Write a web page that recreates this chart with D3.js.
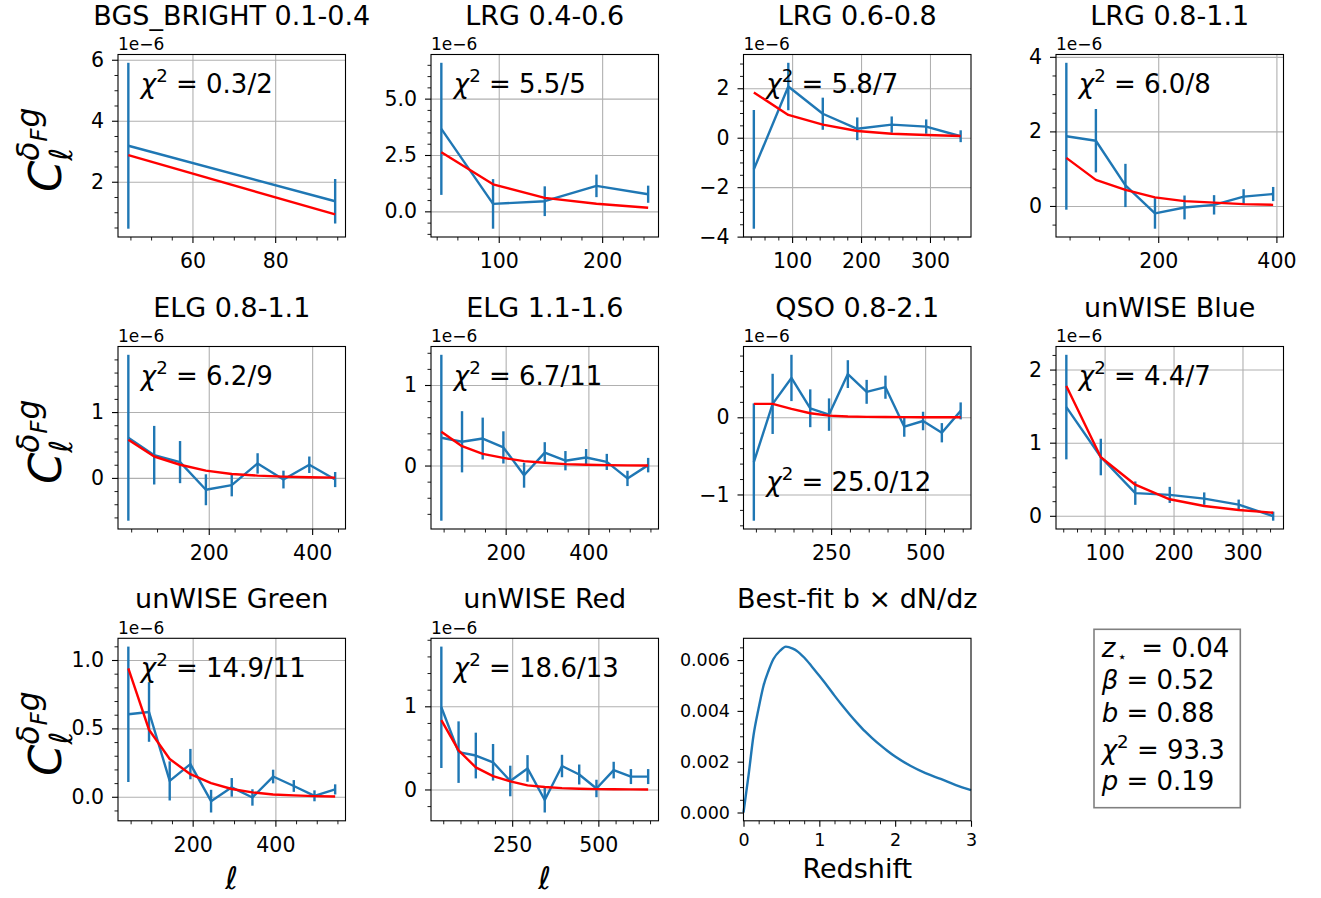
<!DOCTYPE html>
<html><head><meta charset="utf-8">
<script src="https://cdn.jsdelivr.net/npm/d3@7"></script>
<style>body{margin:0;background:#fff}svg text{font-family:"DejaVu Sans",sans-serif;white-space:pre}</style>
</head><body><svg id="c" width="1321" height="898"></svg>
<script>
// ---------------- data (C_ell values in units of 1e-6) ----------------
const panelTitles = ["BGS_BRIGHT 0.1-0.4","LRG 0.4-0.6","LRG 0.6-0.8","LRG 0.8-1.1","ELG 0.8-1.1","ELG 1.1-1.6","QSO 0.8-2.1","unWISE Blue","unWISE Green","unWISE Red"];
const ellCenters = [44.5,94.5,144.5,194.5,244.5,294.5,344.5,394.5,444.5,494.5,544.5,594.5,644.5];

const clBGS = [3.18,1.36];
const errBGS = [2.72,0.73];
const modBGS = [2.87,0.93];

const clLRG1 = [3.66,0.33,0.45,1.13,0.76];
const errLRG1 = [2.93,1.1,0.66,0.5,0.38];
const modLRG1 = [2.62,1.2,0.6,0.34,0.16];

const clLRG2 = [-1.28,2.07,0.97,0.36,0.53,0.45,0.06];
const errLRG2 = [2.4,0.96,0.65,0.46,0.33,0.29,0.24];
const modLRG2 = [1.83,0.92,0.53,0.27,0.16,0.11,0.07];

const clLRG3 = [1.87,1.75,0.55,-0.2,-0.04,0.03,0.25,0.32];
const errLRG3 = [1.97,0.85,0.58,0.41,0.32,0.26,0.2,0.19];
const modLRG3 = [1.29,0.70,0.43,0.23,0.13,0.09,0.05,0.03];

const clELG1 = [0.61,0.345,0.24,-0.18,-0.11,0.22,-0.025,0.2,-0.025];
const errELG1 = [1.26,0.445,0.32,0.235,0.17,0.155,0.135,0.125,0.115];
const modELG1 = [0.58,0.325,0.2,0.11,0.06,0.035,0.02,0.01,0.005];

const clELG2 = [0.345,0.295,0.335,0.225,-0.12,0.16,0.06,0.1,0.045,-0.16,0.005];
const errELG2 = [1.03,0.38,0.26,0.2,0.155,0.13,0.12,0.105,0.1,0.095,0.09];
const modELG2 = [0.42,0.24,0.145,0.095,0.055,0.035,0.017,0.01,0.005,0.002,0.0];

const clQSO = [-0.58,0.174,0.51,0.117,0.035,0.56,0.33,0.39,-0.122,-0.048,-0.2,0.083];
const errQSO = [0.76,0.39,0.3,0.245,0.21,0.18,0.155,0.15,0.13,0.12,0.125,0.11];
const modQSO = [0.174,0.174,0.109,0.052,0.022,0.01,0.005,0.003,0.002,0.001,0.001,0.0];

const clBlue = [1.487,0.804,0.31,0.286,0.235,0.152,-0.005];
const errBlue = [0.715,0.25,0.16,0.11,0.085,0.07,0.062];
const modBlue = [1.774,0.8,0.425,0.226,0.134,0.08,0.042];

const clGreen = [0.603,0.62,0.116,0.239,-0.032,0.069,-0.005,0.148,0.079,0.007,0.054];
const errGreen = [0.495,0.218,0.143,0.111,0.083,0.068,0.06,0.05,0.043,0.04,0.037];
const modGreen = [0.938,0.49,0.276,0.165,0.1,0.057,0.032,0.017,0.01,0.005,0.002];

const clRed = [0.988,0.449,0.408,0.327,0.102,0.253,-0.127,0.282,0.18,0.012,0.233,0.155,0.155];
const errRed = [0.73,0.37,0.275,0.22,0.184,0.16,0.15,0.135,0.12,0.105,0.1,0.09,0.09];
const modRed = [0.833,0.47,0.265,0.16,0.098,0.049,0.029,0.016,0.008,0.004,0.002,0.001,0.0];

const chi2Labels = ["0.3/2","5.5/5","5.8/7","6.0/8","6.2/9","6.7/11","25.0/12","4.4/7","14.9/11","18.6/13"];
const chi2Place = ["top","top","top","top","top","top","bottom","top","top","top"];

const xTickVals = [[60,80],[100,200],[100,200,300],[200,400],[200,400],[200,400],[250,500],[100,200,300],[200,400],[250,500]];
const xTickLabels = [["60","80"],["100","200"],["100","200","300"],["200","400"],["200","400"],["200","400"],["250","500"],["100","200","300"],["200","400"],["250","500"]];
const yTickVals = [[2,4,6],[0,2.5,5],[-4,-2,0,2],[0,2,4],[0,1],[0,1],[-1,0],[0,1,2],[0,0.5,1],[0,1]];
const yTickLabels = [["2","4","6"],["0.0","2.5","5.0"],["\u22124","\u22122","0","2"],["0","2","4"],["0","1"],["0","1"],["\u22121","0"],["0","1","2"],["0.0","0.5","1.0"],["0","1"]];
const xMinorDiv = [4,5,5,4,4,4,5,5,4,5];
const yMinorDiv = [4,5,4,4,5,5,5,5,5,5];

// best-fit b x dN/dz (values in units of 1e-3)
const zGrid = [0,0.066,0.132,0.198,0.264,0.33,0.395,0.483,0.558,0.65,0.7,0.8,0.9,1.0,1.1,1.2,1.3,1.4,1.5,1.6,1.7,1.8,1.9,2.0,2.2,2.4,2.6,2.8,3.0];
const bdndz = [0,1.45,3.03,4.08,4.99,5.58,6.04,6.37,6.53,6.45,6.37,6.1,5.75,5.38,5.0,4.6,4.22,3.86,3.52,3.2,2.92,2.66,2.42,2.2,1.84,1.55,1.32,1.08,0.88];
const zTicks = [0,1,2,3];
const zTickLabels = ["0","1","2","3"];
const bTicks = [0,2,4,6];
const bTickLabels = ["0.000","0.002","0.004","0.006"];

const fitParams = [["z","\u22c6","0.04"],["\u03b2","","0.52"],["b","","0.88"],["\u03c7","2","93.3"],["p","","0.19"]];

// ---------------- layout ----------------
const clAll = [clBGS,clLRG1,clLRG2,clLRG3,clELG1,clELG2,clQSO,clBlue,clGreen,clRed];
const errAll = [errBGS,errLRG1,errLRG2,errLRG3,errELG1,errELG2,errQSO,errBlue,errGreen,errRed];
const modAll = [modBGS,modLRG1,modLRG2,modLRG3,modELG1,modELG2,modQSO,modBlue,modGreen,modRed];

const colLeft = [118,431,743.5,1056], rowTop = [54.5,346.5,638.3];
const PW = 227.5, PH = 182.5;
const BLUE = "#1f77b4", RED = "#ff0000", GRID = "#b0b0b0";
const TICK = 20.5, TITLE = 27, CHI = 26, LW = 2.4;
const svg = d3.select("#c");

function minorTicks(domain, majors, ndiv){
  const step = (majors[1]-majors[0])/ndiv, out=[];
  const start = Math.ceil((domain[0]-majors[0])/step - 1e-9);
  for(let k=start; majors[0]+k*step <= domain[1]+1e-9; k++){
    if(((k%ndiv)+ndiv)%ndiv !== 0) out.push(majors[0]+k*step);
  }
  return out;
}

function axes(g, xs, ys, xt, xl, xdiv, yt, yl, ydiv, opts){
  const fs = opts.fs || TICK;
  if(opts.grid){
    g.append("g").call(d3.axisBottom(xs).tickValues(xt).tickSize(PH).tickFormat(""))
      .call(a=>{a.select(".domain").remove();a.selectAll("line").attr("stroke",GRID).attr("stroke-width",1.1);});
    g.append("g").call(d3.axisLeft(ys).tickValues(yt).tickSize(-PW).tickFormat(""))
      .call(a=>{a.select(".domain").remove();a.selectAll("line").attr("stroke",GRID).attr("stroke-width",1.1);});
  }
  return function finish(){
    g.append("rect").attr("width",PW).attr("height",PH).attr("fill","none").attr("stroke","#000").attr("stroke-width",1.1);
    const xm = new Map(xt.map((v,i)=>[v,xl[i]])), ym = new Map(yt.map((v,i)=>[v,yl[i]]));
    g.append("g").attr("transform",`translate(0,${PH})`)
      .call(d3.axisBottom(xs).tickValues(xt).tickSize(6).tickPadding(opts.xpad||10.5).tickFormat(d=>xm.get(d)))
      .call(a=>{a.select(".domain").remove();a.attr("font-size",fs).attr("font-family",null);a.selectAll("line").attr("stroke-width",1.1);});
    g.append("g").attr("transform",`translate(0,${PH})`)
      .call(d3.axisBottom(xs).tickValues(minorTicks(xs.domain(),xt,xdiv)).tickSize(3.5).tickFormat(""))
      .call(a=>{a.select(".domain").remove();a.selectAll("line").attr("stroke-width",0.9);});
    g.append("g")
      .call(d3.axisLeft(ys).tickValues(yt).tickSize(6).tickPadding(opts.ypad||8).tickFormat(d=>ym.get(d)))
      .call(a=>{a.select(".domain").remove();a.attr("font-size",fs).attr("font-family",null);a.selectAll("line").attr("stroke-width",1.1);});
    g.append("g")
      .call(d3.axisLeft(ys).tickValues(minorTicks(ys.domain(),yt,ydiv)).tickSize(3.5).tickFormat(""))
      .call(a=>{a.select(".domain").remove();a.selectAll("line").attr("stroke-width",0.9);});
  };
}

function chiText(g, x, y, sym, sup, rest, size){
  const t = g.append("text").attr("x",x).attr("y",y).attr("font-size",size);
  t.append("tspan").attr("font-style","italic").text(sym);
  if(sup){
    t.append("tspan").attr("font-size",size*0.7).attr("dy",-size*0.42).text(sup);
    t.append("tspan").attr("dy",size*0.42).text(" = "+rest);
  } else t.append("tspan").text(" = "+rest);
  return t;
}

// ---------------- C_ell panels ----------------
panelTitles.forEach((title,i)=>{
  const r = Math.floor(i/4), c = i%4;
  const g = svg.append("g").attr("transform",`translate(${colLeft[c]},${rowTop[r]})`);
  const cl = clAll[i], er = errAll[i], md = modAll[i];
  const ell = ellCenters.slice(0, cl.length);
  const xs0 = ell[0], xs1 = ell[ell.length-1], xpad = 0.05*(xs1-xs0);
  const lo = Math.min(d3.min(cl,(d,j)=>d-er[j]), d3.min(md));
  const hi = Math.max(d3.max(cl,(d,j)=>d+er[j]), d3.max(md));
  const ypad = 0.05*(hi-lo);
  const xs = d3.scaleLinear().domain([xs0-xpad, xs1+xpad]).range([0,PW]);
  const ys = d3.scaleLinear().domain([lo-ypad, hi+ypad]).range([PH,0]);
  const finish = axes(g, xs, ys, xTickVals[i], xTickLabels[i], xMinorDiv[i], yTickVals[i], yTickLabels[i], yMinorDiv[i], {grid:true});
  g.append("g").selectAll("line").data(cl).join("line")
    .attr("x1",(d,j)=>xs(ell[j])).attr("x2",(d,j)=>xs(ell[j]))
    .attr("y1",(d,j)=>ys(d-er[j])).attr("y2",(d,j)=>ys(d+er[j]))
    .attr("stroke",BLUE).attr("stroke-width",LW);
  g.append("path").datum(cl).attr("d",d3.line().x((d,j)=>xs(ell[j])).y(d=>ys(d)))
    .attr("fill","none").attr("stroke",BLUE).attr("stroke-width",LW).attr("stroke-linejoin","round");
  g.append("path").datum(md).attr("d",d3.line().x((d,j)=>xs(ell[j])).y(d=>ys(d)))
    .attr("fill","none").attr("stroke",RED).attr("stroke-width",LW).attr("stroke-linejoin","round");
  finish();
  g.append("text").attr("x",PW/2).attr("y",-30).attr("text-anchor","middle").attr("font-size",TITLE).text(title);
  g.append("text").attr("x",0).attr("y",-4.5).attr("font-size",17).text("1e\u22126");
  const cy = chi2Place[i]==="top" ? 38.5 : PH-37.6;
  chiText(g, 0.1*PW, cy, "\u03c7", "2", chi2Labels[i], CHI);
});

// ---------------- y labels ----------------
function ylabel(cx, cy){
  const S = 45;
  const g = svg.append("g").attr("transform",`translate(${cx},${cy}) rotate(-90)`);
  const inner = g.append("g");
  const C = inner.append("text").attr("font-size",S).attr("font-style","italic").text("C");
  const wC = C.node().getComputedTextLength();
  const l = inner.append("text").attr("x",wC).attr("y",0.24*S).attr("font-size",0.7*S).attr("font-style","italic").text("\u2113");
  const d = inner.append("text").attr("x",wC).attr("y",-0.48*S).attr("font-size",0.7*S).attr("font-style","italic").text("\u03b4");
  const wd = d.node().getComputedTextLength();
  const F = inner.append("text").attr("x",wC+wd).attr("y",-0.32*S).attr("font-size",0.5*S).attr("font-style","italic").text("F");
  const wF = F.node().getComputedTextLength();
  const gg = inner.append("text").attr("x",wC+wd+wF+1).attr("y",-0.48*S).attr("font-size",0.7*S).attr("font-style","italic").text("g");
  const wg = gg.node().getComputedTextLength();
  const total = wC + Math.max(l.node().getComputedTextLength(), wd+wF+1+wg);
  inner.attr("transform",`translate(${-total/2},0)`);
}
rowTop.forEach(t=>ylabel(61, t+PH/2+4));

[8,9].forEach(i=>{
  const c=i%4;
  svg.append("text").attr("x",colLeft[c]+PW/2).attr("y",889).attr("text-anchor","middle")
    .attr("font-size",31).attr("font-style","italic").text("\u2113");
});

// ---------------- best-fit panel ----------------
{
  const g = svg.append("g").attr("transform",`translate(${colLeft[2]},${rowTop[2]})`);
  const xs = d3.scaleLinear().domain([0,3]).range([0,PW]);
  const lo = d3.min(bdndz), hi = d3.max(bdndz), pad = 0.05*(hi-lo);
  const ys = d3.scaleLinear().domain([lo-pad, hi+pad]).range([PH,0]);
  const finish = axes(g, xs, ys, zTicks, zTickLabels, 5, bTicks, bTickLabels, 4, {grid:false, fs:17.5, xpad:7, ypad:7.5});
  g.append("path").datum(bdndz).attr("d",d3.line().x((d,j)=>xs(zGrid[j])).y(d=>ys(d)).curve(d3.curveMonotoneX))
    .attr("fill","none").attr("stroke",BLUE).attr("stroke-width",LW);
  finish();
  g.append("text").attr("x",PW/2).attr("y",-30).attr("text-anchor","middle").attr("font-size",TITLE).text("Best-fit b \u00d7 dN/dz");
  g.append("text").attr("x",PW/2).attr("y",878-rowTop[2]).attr("text-anchor","middle").attr("font-size",27).text("Redshift");
}

// ---------------- parameter box ----------------
{
  svg.append("rect").attr("x",1094).attr("y",629.3).attr("width",146.3).attr("height",178.4)
    .attr("fill","#fff").attr("stroke","#808080").attr("stroke-width",1.6);
  const baselines = [656.7,689,721.7,759,790];
  fitParams.forEach((p,i)=>{
    const t = svg.append("text").attr("x",1101.7).attr("y",baselines[i]).attr("font-size",CHI);
    t.append("tspan").attr("font-style","italic").text(p[0]);
    if(p[1]==="\u22c6"){
      t.append("tspan").attr("font-size",CHI*0.6).attr("dy",CHI*0.2).attr("dx",2).text(p[1]);
      t.append("tspan").attr("dy",-CHI*0.2).attr("dx",6).text(" = "+p[2]);
    } else if(p[1]){
      t.append("tspan").attr("font-size",CHI*0.7).attr("dy",-CHI*0.42).text(p[1]);
      t.append("tspan").attr("dy",CHI*0.42).text(" = "+p[2]);
    } else {
      t.append("tspan").text(" = "+p[2]);
    }
  });
}
</script></body></html>
